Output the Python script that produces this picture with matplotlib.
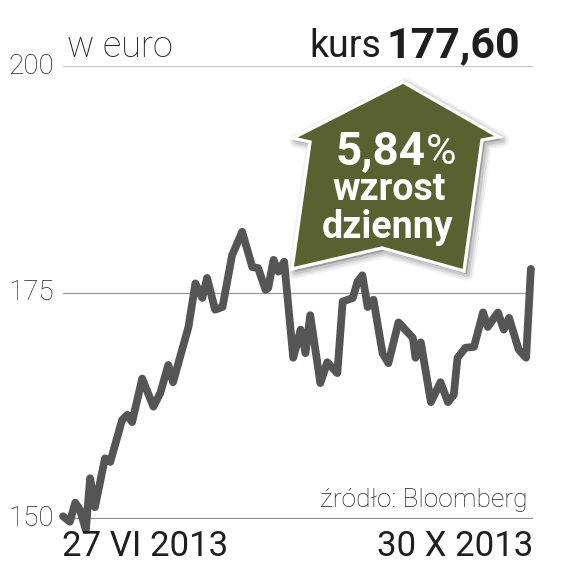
import matplotlib
matplotlib.use("Agg")
import matplotlib.pyplot as plt
from matplotlib.patches import Polygon

# ---- data (trading days since 27 VI 2013, closing price in EUR) ----
days = [0, 1.3, 2.3, 3.2, 4.3, 5.1, 6.0, 7.9, 8.9, 11.1, 12.1, 13.0, 14.9, 17.0,
        18.3, 19.8, 20.7, 23.6, 24.9, 26.2, 27.1, 28.6, 30.0, 31.8, 33.7, 35.6,
        36.7, 38.1, 38.6, 39.6, 40.5, 41.6, 43.3, 44.7, 45.6, 46.5, 48.4, 49.7,
        51.6, 52.6, 54.5, 55.4, 56.3, 57.3, 58.4, 60.1, 61.2, 63.1, 65.8, 66.3,
        67.3, 69.2, 71.0, 72.4, 73.5, 74.2, 75.7, 77.3, 79.0, 79.9, 81.8, 82.9,
        83.9, 85.7, 87.1, 88.0]
price = [150.3, 149.7, 151.8, 151.0, 148.8, 154.5, 151.3, 156.7, 156.3, 160.9,
         161.5, 160.7, 165.5, 162.4, 163.9, 167.0, 165.1, 171.2, 176.0, 174.4,
         176.6, 173.1, 173.4, 179.1, 181.7, 177.8, 177.7, 175.3, 175.5, 178.6,
         177.3, 178.4, 167.8, 170.9, 168.3, 172.5, 165.0, 167.3, 166.1, 174.0,
         174.4, 176.2, 176.9, 173.4, 174.2, 168.3, 167.2, 171.7, 170.0, 167.8,
         169.5, 162.9, 165.1, 162.9, 163.7, 167.8, 168.9, 169.0, 172.8, 171.2,
         172.8, 170.9, 172.2, 168.7, 167.8, 177.6]
yticks = [150, 175, 200]
ytick_labels = ["150", "175", "200"]
start_label = "27 VI 2013"
end_label = "30 X 2013"
unit_label = "w euro"
kurs_label = "kurs"
kurs_value = "177,60"
change_value = "5,84"
change_text = ["wzrost", "dzienny"]
source = "źródło: Bloomberg"

W, H = 573, 567
fig = plt.figure(figsize=(W / 100, H / 100), dpi=100)
fig.patch.set_facecolor("white")

def fx(x):
    return x / W

def fy(y):
    return 1 - y / H

# axes: x 63..533 px, y 200 at 66 px, 150 at 519 px
ax = fig.add_axes([fx(63), fy(519), (533 - 63) / W, (519 - 66) / H])
ax.set_xlim(0, 88.4)
ax.set_ylim(150, 200)
ax.axis("off")

ax.axhline(200, color="#c4c4c4", lw=1.6, zorder=1)
ax.axhline(175, color="#9a9a9a", lw=0.9, zorder=1)
ax.axhline(150, color="#8e8e8e", lw=2.3, zorder=1)
ax.plot(days, price, color="#555555", lw=5.6, solid_joinstyle="round",
        solid_capstyle="round", clip_on=False, zorder=3)

FONT = "Roboto"
for v, lab in zip(yticks, ytick_labels):
    ax.text(-9 / 470 * 88.4, v, lab, ha="right", va="center", fontsize=20,
            family=FONT, weight="light", color="#222222")

fig.text(fx(67), fy(57), unit_label, ha="left", va="baseline", fontsize=26,
         family=FONT, weight="light", color="#222222")
fig.text(fx(520), fy(57), kurs_value, ha="right", va="baseline", fontsize=31,
         family=FONT, weight="bold", color="#1e1e1e")
fig.text(fx(381), fy(57), kurs_label, ha="right", va="baseline", fontsize=27,
         family=FONT, weight="normal", color="#1e1e1e")

fig.text(fx(62), fy(556), start_label, ha="left", va="baseline", fontsize=25,
         family=FONT, weight="normal", color="#1e1e1e")
fig.text(fx(533), fy(556), end_label, ha="right", va="baseline", fontsize=25,
         family=FONT, weight="normal", color="#1e1e1e")
fig.text(fx(528), fy(507), source, ha="right", va="baseline", fontsize=19,
         family=FONT, weight="light", color="#222222")

# ---- arrow badge ----
pts = [(293, 138), (403, 82), (499, 137), (482, 140), (464, 271),
       (382, 248), (292, 269), (310, 142)]
fpts = [(fx(x), fy(y)) for x, y in pts]
for i, (lw, a) in enumerate([(10, 0.05), (7, 0.07), (4, 0.10)]):
    sh = [(fx(x + 3), fy(y + 3)) for x, y in pts]
    fig.patches.append(Polygon(sh, closed=True, transform=fig.transFigure,
                               facecolor="#000000", alpha=a, edgecolor="#000000",
                               lw=lw, joinstyle="round", zorder=5))
fig.patches.append(Polygon(fpts, closed=True, transform=fig.transFigure,
                           facecolor="#5a6130", edgecolor="white", lw=2.4,
                           joinstyle="miter", zorder=6))

t1 = fig.text(fx(426), fy(164), change_value, ha="right", va="baseline",
              fontsize=33, family=FONT, weight="bold", color="white", zorder=7)
fig.text(fx(426), fy(164), "%", ha="left", va="baseline", fontsize=30,
         family=FONT, weight="normal", color="white", zorder=7)
fig.text(fx(389), fy(200), change_text[0], ha="center", va="baseline",
         fontsize=27, family=FONT, weight="bold", color="white", zorder=7)
fig.text(fx(388), fy(238), change_text[1], ha="center", va="baseline",
         fontsize=27, family=FONT, weight="bold", color="white", zorder=7)

fig.savefig("out.png", dpi=100, facecolor="white")
